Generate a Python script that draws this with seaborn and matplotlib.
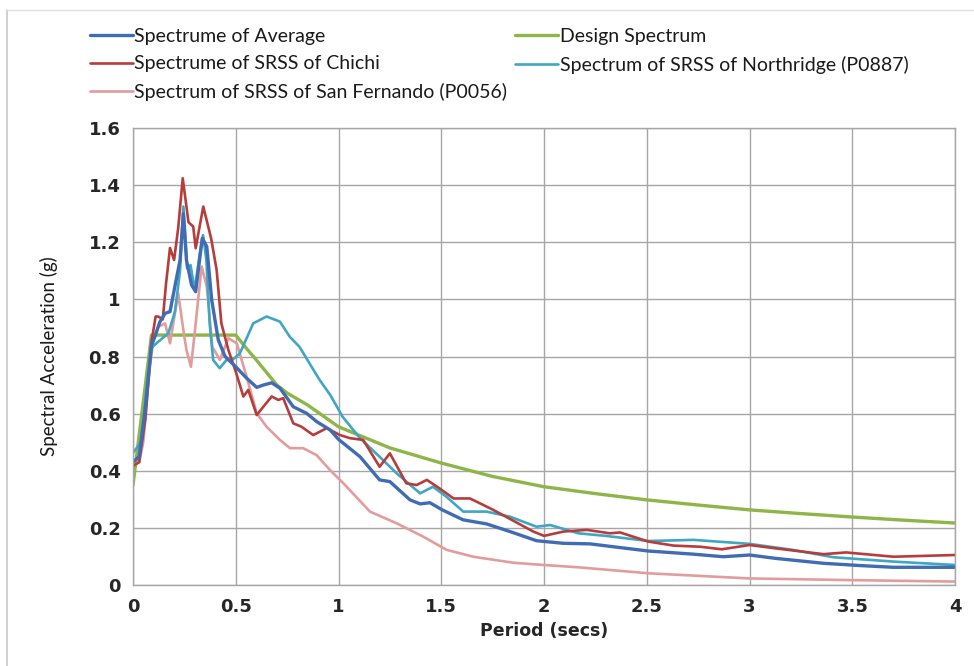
import matplotlib
matplotlib.use("Agg")
import matplotlib.pyplot as plt
from matplotlib.lines import Line2D
import seaborn as sns
import pandas as pd

# ---------------- data ----------------
avg_T = [0, 0.03, 0.06, 0.09, 0.107, 0.13, 0.156, 0.18, 0.21, 0.229, 0.245, 0.26, 0.285, 0.305,
         0.337, 0.359, 0.383, 0.415, 0.448, 0.5, 0.553, 0.602, 0.634, 0.675, 0.715, 0.78, 0.845,
         0.894, 0.959, 1.0, 1.105, 1.2, 1.25, 1.348, 1.397, 1.445, 1.505, 1.607, 1.72, 1.835,
         1.964, 2.094, 2.224, 2.37, 2.508, 2.726, 2.872, 3.0, 3.13, 3.36, 3.54, 3.70, 4.0]
avg_V = [0.43, 0.45, 0.62, 0.84, 0.87, 0.92, 0.951, 0.957, 1.068, 1.138, 1.30, 1.138, 1.05, 1.027,
         1.214, 1.185, 0.998, 0.858, 0.80, 0.764, 0.724, 0.692, 0.70, 0.708, 0.689, 0.624, 0.601,
         0.572, 0.543, 0.51, 0.449, 0.368, 0.362, 0.298, 0.284, 0.288, 0.263, 0.228, 0.214, 0.187,
         0.155, 0.146, 0.144, 0.131, 0.119, 0.108, 0.099, 0.105, 0.093, 0.076, 0.068, 0.062, 0.062]

design_T = [0, 0.09, 0.5, 0.55, 0.6, 0.7, 0.75, 0.85, 1.0, 1.25, 1.5, 1.75, 2.0, 2.25, 2.5,
            2.75, 3.0, 3.25, 3.5, 3.75, 4.0]
design_V = [0.35, 0.875, 0.875, 0.83, 0.788, 0.70, 0.672, 0.63, 0.554, 0.48, 0.427, 0.38, 0.344,
            0.32, 0.298, 0.28, 0.263, 0.25, 0.238, 0.227, 0.217]

chichi_T = [0, 0.03, 0.06, 0.09, 0.11, 0.123, 0.145, 0.16, 0.18, 0.2, 0.22, 0.242, 0.27, 0.293,
            0.305, 0.342, 0.38, 0.407, 0.43, 0.464, 0.5, 0.537, 0.561, 0.602, 0.634, 0.675, 0.707,
            0.731, 0.78, 0.82, 0.877, 0.943, 1.007, 1.056, 1.12, 1.20, 1.25, 1.33, 1.38, 1.43,
            1.48, 1.56, 1.64, 1.753, 1.843, 1.948, 2.0, 2.094, 2.208, 2.32, 2.37, 2.508, 2.63,
            2.76, 2.865, 3.0, 3.13, 3.36, 3.47, 3.70, 4.0]
chichi_V = [0.417, 0.43, 0.58, 0.85, 0.94, 0.94, 0.93, 1.05, 1.18, 1.138, 1.25, 1.424, 1.27, 1.255,
            1.179, 1.325, 1.214, 1.103, 0.916, 0.823, 0.747, 0.66, 0.683, 0.595, 0.624, 0.66, 0.648,
            0.654, 0.566, 0.554, 0.525, 0.549, 0.525, 0.514, 0.508, 0.414, 0.461, 0.356, 0.35, 0.368,
            0.344, 0.303, 0.303, 0.263, 0.228, 0.187, 0.172, 0.187, 0.193, 0.181, 0.184, 0.152, 0.138,
            0.134, 0.125, 0.14, 0.128, 0.108, 0.114, 0.099, 0.105]

north_T = [0, 0.04, 0.07, 0.09, 0.123, 0.172, 0.204, 0.229, 0.245, 0.255, 0.263, 0.28, 0.30, 0.325,
           0.341, 0.357, 0.373, 0.39, 0.422, 0.455, 0.487, 0.52, 0.585, 0.65, 0.715, 0.763, 0.81,
           0.908, 0.96, 1.02, 1.105, 1.20, 1.283, 1.397, 1.46, 1.525, 1.607, 1.72, 1.835, 1.964,
           2.03, 2.167, 2.3, 2.508, 2.727, 3.0, 3.21, 3.41, 3.70, 4.0]
north_V = [0.463, 0.50, 0.72, 0.83, 0.852, 0.881, 0.957, 1.10, 1.325, 1.22, 1.109, 1.12, 1.033, 1.161,
           1.225, 1.138, 0.916, 0.788, 0.759, 0.788, 0.79, 0.811, 0.916, 0.94, 0.922, 0.869, 0.834,
           0.718, 0.665, 0.589, 0.514, 0.449, 0.391, 0.321, 0.344, 0.309, 0.257, 0.257, 0.239, 0.204,
           0.21, 0.181, 0.172, 0.154, 0.158, 0.144, 0.123, 0.097, 0.082, 0.07]

sanf_T = [0, 0.03, 0.05, 0.08, 0.1, 0.123, 0.156, 0.18, 0.22, 0.245, 0.26, 0.282, 0.30, 0.334, 0.359,
          0.386, 0.423, 0.464, 0.505, 0.553, 0.602, 0.65, 0.715, 0.764, 0.828, 0.893, 0.958, 1.024,
          1.153, 1.283, 1.413, 1.526, 1.656, 1.85, 2.0, 2.167, 2.508, 3.0, 3.5, 4.0]
sanf_V = [0.42, 0.43, 0.50, 0.75, 0.86, 0.904, 0.916, 0.846, 1.021, 0.893, 0.823, 0.764, 0.881, 1.115,
          1.045, 0.834, 0.788, 0.864, 0.846, 0.729, 0.601, 0.554, 0.508, 0.479, 0.479, 0.455, 0.403,
          0.356, 0.257, 0.216, 0.169, 0.123, 0.099, 0.078, 0.07, 0.062, 0.041, 0.023, 0.017, 0.012]

x_ticks = [0, 0.5, 1, 1.5, 2, 2.5, 3, 3.5, 4]
x_tick_labels = ["0", "0.5", "1", "1.5", "2", "2.5", "3", "3.5", "4"]
y_ticks = [0, 0.2, 0.4, 0.6, 0.8, 1.0, 1.2, 1.4, 1.6]
y_tick_labels = ["0", "0.2", "0.4", "0.6", "0.8", "1", "1.2", "1.4", "1.6"]

series = [
    ("Spectrume of Average", avg_T, avg_V, "#3F6CB3", 2.4),
    ("Spectrume of SRSS of Chichi", chichi_T, chichi_V, "#B53D3B", 1.9),
    ("Spectrum of SRSS of San Fernando (P0056)", sanf_T, sanf_V, "#E29C9C", 1.9),
    ("Design Spectrum", design_T, design_V, "#8DB548", 2.4),
    ("Spectrum of SRSS of Northridge (P0887)", north_T, north_V, "#3FA6C4", 1.9),
]
draw_order = [3, 2, 4, 1, 0]

# ---------------- figure ----------------
sns.set_style("white")
plt.rcParams["font.family"] = ["DejaVu Sans"]

fig = plt.figure(figsize=(9.74, 6.66), dpi=100)
ax = fig.add_axes([133 / 974, 1 - 585 / 666, (955 - 133) / 974, (585 - 128) / 666])

handles = {}
for i in draw_order:
    name, T, V, col, lw = series[i]
    df = pd.DataFrame({"T": T, "V": V})
    sns.lineplot(data=df, x="T", y="V", ax=ax, color=col, linewidth=lw, label=name,
                 estimator=None, sort=False, legend=False)
    handles[name] = Line2D([], [], color=col, linewidth=lw)

ax.set_xlim(0, 4)
ax.set_ylim(0, 1.6)
ax.set_xticks(x_ticks)
ax.set_xticklabels(x_tick_labels, fontsize=13, fontweight="bold", color="#262626")
ax.set_yticks(y_ticks)
ax.set_yticklabels(y_tick_labels, fontsize=13, fontweight="bold", color="#262626")
ax.grid(True, color="#A6A6A6", linewidth=1.0)
for s in ax.spines.values():
    s.set_color("#A6A6A6")
    s.set_linewidth(1.0)
ax.tick_params(axis="both", length=5, width=1.0, color="#A6A6A6", direction="out", pad=4)

ax.set_xlabel("Period (secs)", fontsize=12.5, fontweight="bold", color="#262626", labelpad=5)
ax.set_ylabel("Spectral Acceleration (g)", fontsize=13.5, family=["Lato", "DejaVu Sans"],
              color="#1a1a1a", labelpad=22)

names = [s[0] for s in series]
leg = fig.legend([handles[n] for n in names], names, loc="upper left",
                 bbox_to_anchor=(82 / 974, 1 - 20 / 666), ncol=2, frameon=False,
                 prop={"family": ["Lato", "DejaVu Sans"], "size": 14},
                 handlelength=2.2, handletextpad=0.1, columnspacing=0.4,
                 labelspacing=0.55, borderaxespad=0)
for t in leg.get_texts():
    t.set_color("#1a1a1a")

# chart-area frame (left and top edges visible in the reference)
fig.add_artist(Line2D([7 / 974, 7 / 974], [0, 1 - 10 / 666], transform=fig.transFigure,
                      color="#C8C8C8", linewidth=1.2))
fig.add_artist(Line2D([7 / 974, 1], [1 - 10 / 666, 1 - 10 / 666], transform=fig.transFigure,
                      color="#E0E0E0", linewidth=1.0))

fig.savefig("out.png", dpi=100)
